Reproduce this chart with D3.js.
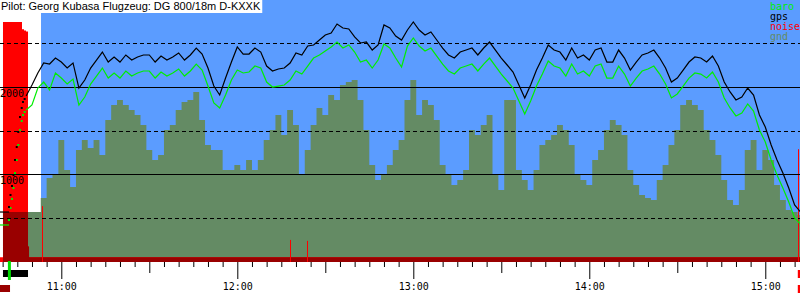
<!DOCTYPE html>
<html>
<head>
<meta charset="utf-8">
<title>Barogramm</title>
<script src="https://cdn.jsdelivr.net/npm/d3@7"></script>
<style>
  body { margin: 0; background: #fff; }
  svg { display: block; }
</style>
</head>
<body>
<div id="chart"></div>
<script>
// flight header + legend
const title = "Pilot: Georg Kubasa Flugzeug: DG 800/18m D-KXXK";
const legendNames = ["baro", "gps", "noise", "gnd"];
const legendColors = ["#00ee00", "#000000", "#ff0000", "#648b64"];

// visible time window and flight start (blue background)
const viewStart = "10:39:06", viewEnd = "15:11:50";
const flightStart = "10:53:05";

const altLabels = [1000, 2000];
const altDashed = [500, 1500, 2500];

// regular log samples: every 2 min starting 10:48 (metres)
const sampleStart = "10:48", sampleStep = 2;
const gps = [1897, 2023, 2161,
  2276, 2264, 2333, 2287, 2218, 2276, 1988, 2080, 2218, 2310,
  2402, 2287, 2345, 2287, 2368, 2310, 2345, 2368, 2368, 2287,
  2356, 2310, 2345, 2391, 2310, 2368, 2448, 2379, 2218, 2011,
  1908, 2103, 2287, 2460, 2379, 2379, 2448, 2402, 2241, 2184,
  2207, 2218, 2276, 2391, 2368, 2471, 2483, 2540, 2598, 2621,
  2724, 2678, 2667, 2575, 2506, 2517, 2425, 2483, 2713, 2678,
  2586, 2540, 2655, 2747, 2655, 2598, 2632, 2540, 2448, 2368,
  2333, 2402, 2425, 2448, 2368, 2448, 2517, 2425, 2333, 2253,
  2172, 2023, 1874, 2023, 2195, 2333, 2483, 2425, 2402, 2310,
  2448, 2333, 2368, 2310, 2425, 2448, 2287, 2287, 2425, 2333,
  2195, 2287, 2368, 2391, 2425, 2333, 2218, 2057, 2103, 2195,
  2287, 2345, 2333, 2287, 2356, 2241, 2057, 1943, 1851, 1885,
  1988, 1908, 1678, 1540, 1333, 1161, 1011, 839, 644, 563];
const baro = [1736, 1793, 1989,
  2057, 1966, 2161, 2103, 2034, 2092, 1793, 1885, 2034, 2126,
  2218, 2103, 2161, 2103, 2184, 2126, 2161, 2184, 2184, 2103,
  2172, 2126, 2161, 2207, 2126, 2184, 2264, 2195, 2011, 1816,
  1759, 1908, 2080, 2195, 2161, 2172, 2241, 2218, 2057, 2000,
  2011, 2023, 2080, 2184, 2149, 2241, 2333, 2368, 2414, 2460,
  2517, 2448, 2483, 2402, 2287, 2310, 2218, 2310, 2494, 2448,
  2333, 2230, 2471, 2563, 2471, 2414, 2448, 2356, 2264, 2184,
  2149, 2218, 2241, 2264, 2184, 2264, 2333, 2241, 2149, 2069,
  1988, 1839, 1690, 1839, 2011, 2149, 2299, 2241, 2218, 2126,
  2264, 2149, 2184, 2126, 2241, 2264, 2103, 2103, 2241, 2149,
  2011, 2103, 2184, 2207, 2241, 2149, 2034, 1874, 1920, 2011,
  2103, 2161, 2149, 2103, 2172, 2057, 1874, 1759, 1667, 1701,
  1805, 1724, 1506, 1368, 1161, 988, 839, 678, 494, 425];
const gnd = [563, 563, 563,
  724, 954, 988, 1391, 1046, 851, 1276, 1391, 1299, 1391,
  1218, 1621, 1793, 1851, 1793, 1736, 1678, 1563, 1276, 1161,
  1218, 1506, 1563, 1736, 1828, 1851, 1943, 1621, 1333, 1276,
  1276, 1046, 1046, 1103, 1046, 1161, 1046, 1161, 1391, 1506,
  1678, 1448, 1736, 1563, 988, 1276, 1563, 1759, 1678, 1908,
  1851, 2023, 2057, 2080, 1851, 1506, 1103, 931, 988, 1103,
  1276, 1391, 1851, 2080, 1678, 1851, 1793, 1621, 1103, 988,
  874, 931, 1046, 1506, 1448, 1563, 1678, 988, 816, 1851,
  1851, 1046, 931, 816, 1046, 1333, 1391, 1448, 1563, 1506,
  1333, 988, 931, 874, 1161, 1276, 1506, 1621, 1563, 1448,
  1046, 874, 759, 724, 701, 931, 1103, 1333, 1506, 1793,
  1851, 1793, 1736, 1506, 1391, 1218, 931, 701, 644, 816,
  1276, 1391, 1046, 1276, 1161, 874, 701, 586, 563, 529];

// on the ground before launch
const preTimes = ["10:39:06", "10:42:10"];
const preGps = [563, 563];
const preBaro = [414, 414];
const preGndTime = "10:40:07", preGnd = 563;

// engine climb, sparse fixes (drawn as dots)
const climbTimes = ["10:42:10", "10:42:41", "10:43:11", "10:43:42", "10:44:13", "10:44:48",
  "10:45:20", "10:45:55", "10:46:30", "10:46:56", "10:47:30"];
const climbGps = [621, 759, 862, 988, 1161, 1310, 1483, 1655, 1759, 1828, 1862];
const climbBaro = [471, 609, 713, 839, 1011, 1161, 1333, 1506, 1609, 1678, 1713];

// engine noise level (0..1000)
const noiseTimes = ["10:39:06", "10:40:07", "10:46:36", "10:47:17", "10:47:58", "10:48:39", "10:49:00", "15:11:50"];
const noiseVals = [20, 1000, 970, 965, 960, 65, 20, 20];
const spikeTimes = ["10:53:25", "12:17:58", "12:23:46", "15:10:59"];
const spikeVals = [233, 92, 88, 470];

// event bars under the time axis
const engineRun = ["10:40:07", "10:48:39"];
const launchTime = "10:42:18";
const lowBar = ["10:39:06", "10:42:31"];
const landing = ["15:11:05", "15:11:50"];

const toMin = s => { const p = s.split(":").map(Number); return p[0] * 60 + p[1] + (p[2] || 0) / 60; };
const fmt = m => d3.format("02")(Math.floor(m / 60)) + ":" + d3.format("02")(m % 60);

const W = 800, H = 300;
const x = d3.scaleLinear().domain([toMin(viewStart), toMin(viewEnd)]).range([0, W]);
const y = d3.scaleLinear().domain([0, 3000]).range([261, 0]);
const yNoise = d3.scaleLinear().domain([0, 1000]).range([262, 22]);

const svg = d3.select("#chart").append("svg")
  .attr("width", W).attr("height", H);

const t0 = toMin(sampleStart);
const main = gps.map((g, i) => ({ t: t0 + i * sampleStep, gps: g, baro: baro[i], gnd: gnd[i] }));

// blue = in the air
svg.append("rect")
  .attr("x", x(toMin(flightStart))).attr("y", 0)
  .attr("width", W - x(toMin(flightStart))).attr("height", 262)
  .attr("fill", "#5b9cff");

// ground elevation
const gndData = [{ t: toMin(preGndTime), gnd: preGnd }].concat(main);
const gndArea = d3.area()
  .x(d => x(d.t)).y0(yNoise(0)).y1(d => y(d.gnd))
  .curve(d3.curveStep);
svg.append("path").datum(gndData)
  .attr("d", gndArea).attr("fill", legendColors[3]);

svg.append("clipPath").attr("id", "gndClip")
  .append("path").datum(gndData).attr("d", gndArea);

// noise
const noiseData = noiseTimes.map((t, i) => ({ t: toMin(t), v: noiseVals[i] }));
const noiseArea = d3.area()
  .x(d => x(d.t)).y0(yNoise(0)).y1(d => yNoise(d.v))
  .curve(d3.curveStepAfter);
svg.append("path").datum(noiseData)
  .attr("d", noiseArea).attr("fill", legendColors[2]);
svg.append("path").datum(noiseData)
  .attr("d", noiseArea).attr("fill", "#990000")
  .attr("clip-path", "url(#gndClip)");

svg.selectAll(".spike")
  .data(spikeTimes)
  .enter().append("line")
    .attr("x1", d => Math.round(x(toMin(d))) + 0.5)
    .attr("x2", d => Math.round(x(toMin(d))) + 0.5)
    .attr("y1", yNoise(0))
    .attr("y2", (d, i) => yNoise(spikeVals[i]))
    .attr("stroke", legendColors[2]);

// grid
svg.selectAll(".gridSolid")
  .data(altLabels)
  .enter().append("line")
    .attr("x1", 0).attr("x2", W)
    .attr("y1", d => Math.round(y(d)) + 0.5).attr("y2", d => Math.round(y(d)) + 0.5)
    .attr("stroke", "#000");
svg.selectAll(".gridDash")
  .data(altDashed)
  .enter().append("line")
    .attr("x1", 0).attr("x2", W)
    .attr("y1", d => Math.round(y(d)) + 0.5).attr("y2", d => Math.round(y(d)) + 0.5)
    .attr("stroke", "#000")
    .attr("stroke-dasharray", "4,3");

svg.selectAll(".altLabel")
  .data(altLabels)
  .enter().append("text")
    .attr("x", 0)
    .attr("y", d => y(d) + 10)
    .attr("font-family", "DejaVu Sans Mono")
    .attr("font-size", "10px")
    .text(d => d);

// baro + gps
const line = key => d3.line().x(d => x(d.t)).y(d => y(d[key]));
const preData = preTimes.map((t, i) => ({ t: toMin(t), gps: preGps[i], baro: preBaro[i] }));

[["baro", legendColors[0], climbBaro], ["gps", legendColors[1], climbGps]].forEach(function(s) {
  svg.append("path").datum(preData)
    .attr("d", line(s[0])).attr("fill", "none").attr("stroke", s[1]).attr("stroke-width", 1.2);
  svg.append("path").datum(main)
    .attr("d", line(s[0])).attr("fill", "none").attr("stroke", s[1]).attr("stroke-width", 1.2);
  svg.selectAll(".dot-" + s[0])
    .data(climbTimes)
    .enter().append("rect")
      .attr("x", d => x(toMin(d)) - 1)
      .attr("y", (d, i) => y(s[2][i]) - 1)
      .attr("width", 2).attr("height", 2)
      .attr("fill", s[1]);
});

// title
const titleText = svg.append("text")
  .attr("x", 1).attr("y", 10)
  .attr("font-family", "Liberation Sans, Arial, sans-serif")
  .attr("font-size", "11px")
  .text(title);
const tw = titleText.node().getComputedTextLength();
svg.insert("rect", "text")
  .attr("x", 0).attr("y", 0).attr("width", tw + 3).attr("height", 13)
  .attr("fill", "#fff");
titleText.raise();

// legend
svg.selectAll(".legend")
  .data(legendNames)
  .enter().append("text")
    .attr("x", 770)
    .attr("y", (d, i) => 10 + i * 10)
    .attr("font-family", "DejaVu Sans Mono")
    .attr("font-size", "10px")
    .attr("fill", (d, i) => legendColors[i])
    .text(d => d);

// time axis
const tickVals = d3.range(640, 912, 5);
const axis = svg.append("g")
  .attr("transform", "translate(0,262)")
  .call(d3.axisBottom(x).tickValues(tickVals).tickSize(5)
    .tickFormat(t => t % 60 === 0 ? fmt(t) : ""));
axis.select(".domain").remove();
axis.attr("font-family", "DejaVu Sans Mono").attr("font-size", 10);
axis.selectAll(".tick line")
  .attr("y2", t => t % 60 === 0 ? 17 : (t % 30 === 0 ? 11 : 5))
  .attr("stroke", "#000");
axis.selectAll(".tick text").attr("y", 28).attr("dy", 0).attr("fill", "#000");

// event bars
svg.append("rect")
  .attr("x", x(toMin(engineRun[0]))).attr("y", 270)
  .attr("width", x(toMin(engineRun[1])) - x(toMin(engineRun[0]))).attr("height", 7)
  .attr("fill", "#000");
svg.append("rect")
  .attr("x", x(toMin(launchTime)) - 1.5).attr("y", 261)
  .attr("width", 3).attr("height", 19)
  .attr("fill", "#00dd00");
svg.append("rect")
  .attr("x", x(toMin(lowBar[0]))).attr("y", 285)
  .attr("width", x(toMin(lowBar[1])) - x(toMin(lowBar[0]))).attr("height", 7)
  .attr("fill", "#990000");
[270, 285].forEach(function(yy) {
  svg.append("rect")
    .attr("x", x(toMin(landing[0]))).attr("y", yy)
    .attr("width", x(toMin(landing[1])) - x(toMin(landing[0]))).attr("height", 8)
    .attr("fill", "#ff0000");
});
</script>
</body>
</html>
